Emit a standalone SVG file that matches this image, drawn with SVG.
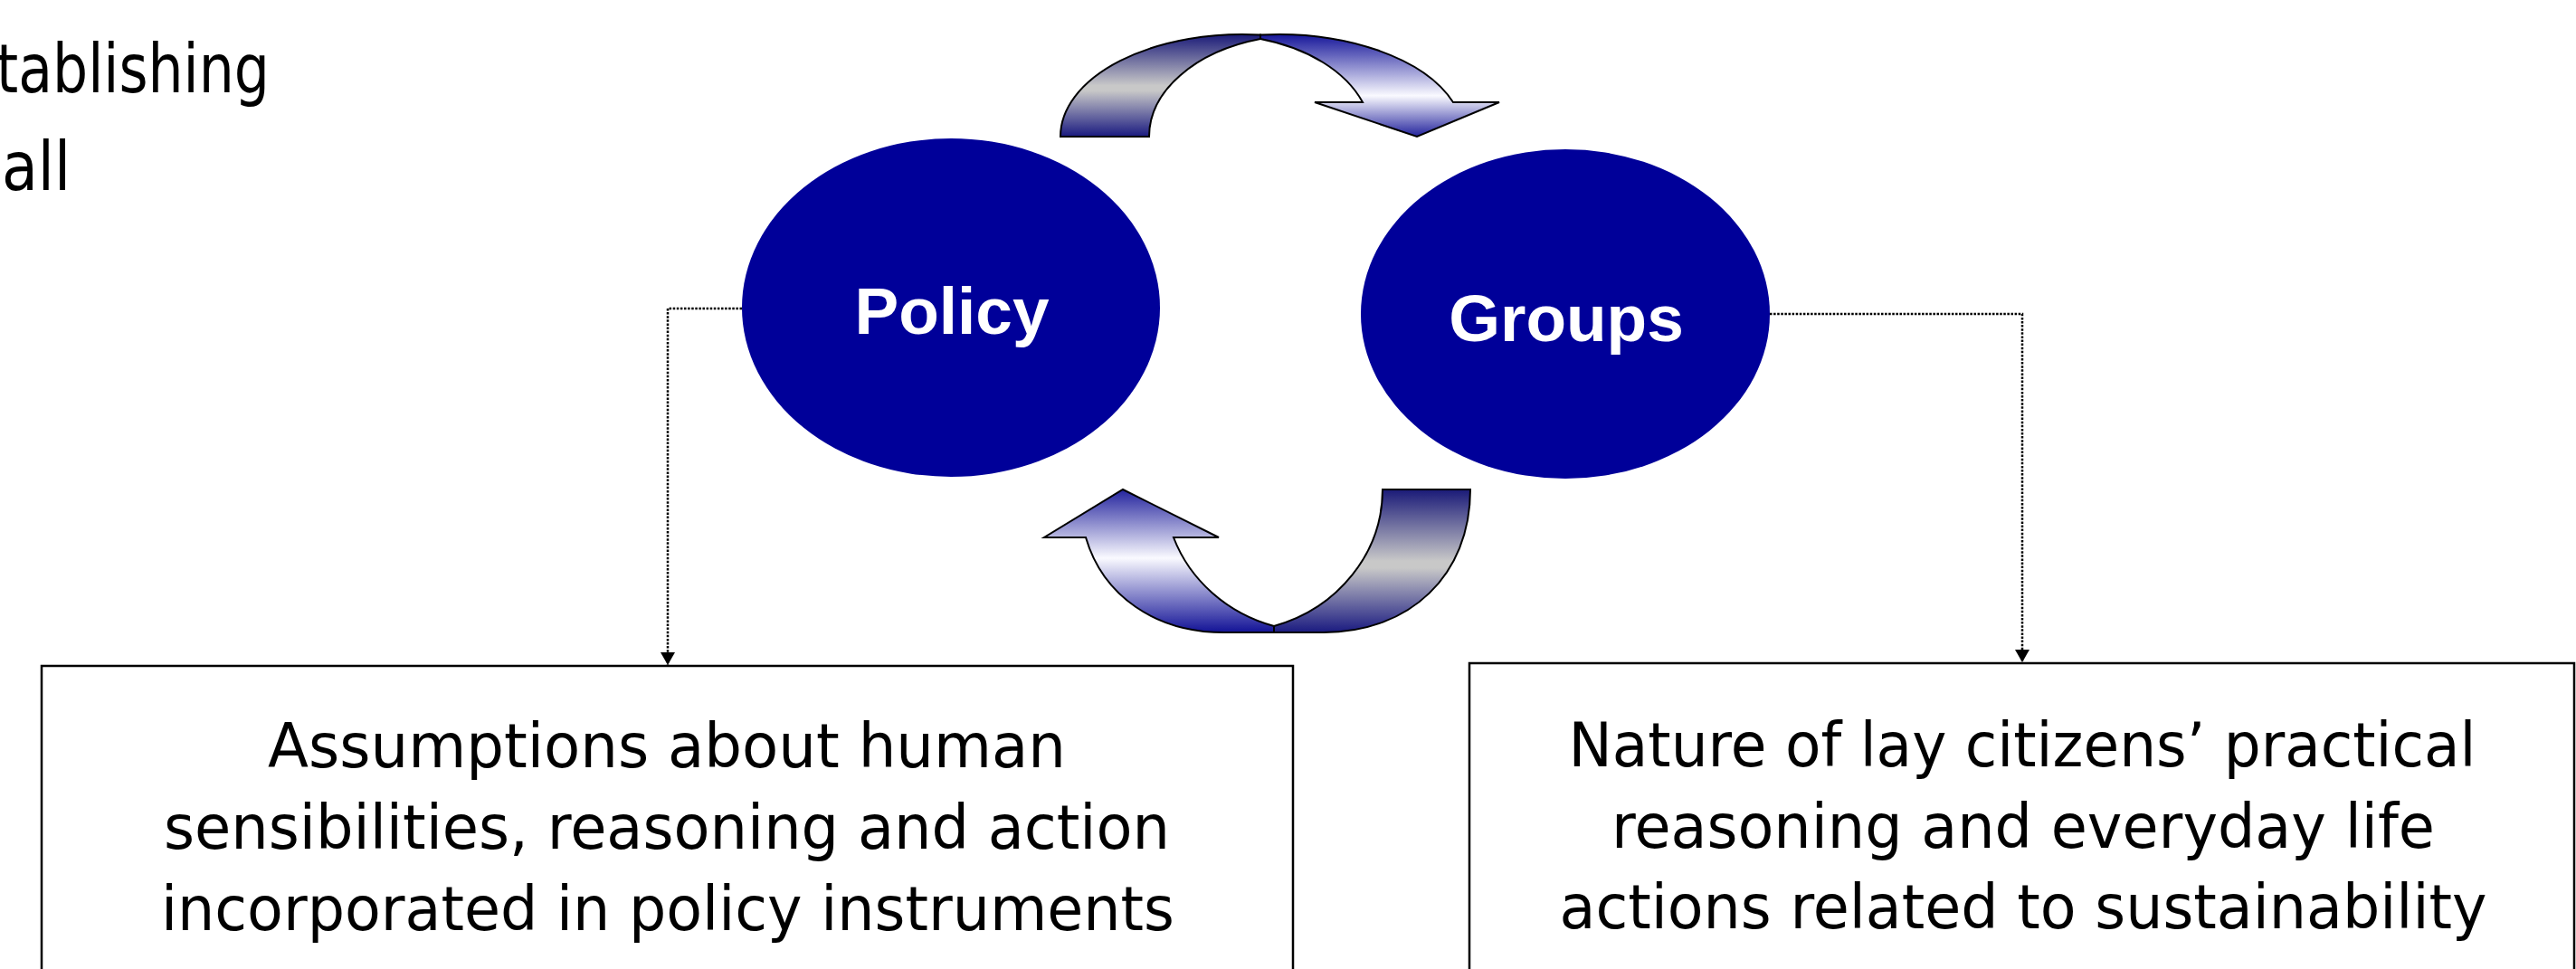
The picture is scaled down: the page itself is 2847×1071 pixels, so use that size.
<svg xmlns="http://www.w3.org/2000/svg" width="2847" height="1071" viewBox="0 0 2847 1071">
<style>
.body{font-family:"DejaVu Sans","Liberation Sans",sans-serif;fill:#000}
.lbl{font-family:"Liberation Sans",Arial,sans-serif;font-weight:bold;font-size:73px;fill:#fff;text-anchor:middle}
.box{fill:#fff;stroke:#000;stroke-width:2.5}
.ell{fill:#000099}
.conn{fill:none;stroke:#000;stroke-width:2.5;stroke-dasharray:2.5 1.6}
.arr{stroke:#000;stroke-width:2;stroke-linejoin:miter}
.bt{font-family:"DejaVu Sans","Liberation Sans",sans-serif;font-size:68px;fill:#000;text-anchor:middle}
</style>
<defs>
<linearGradient id="tailG" x1="0" y1="0" x2="0" y2="1">
<stop offset="0" stop-color="#1a1a78"/>
<stop offset="0.5" stop-color="#c8c8c8"/>
<stop offset="0.55" stop-color="#c8c8c8"/>
<stop offset="1" stop-color="#1a1a80"/>
</linearGradient>
<linearGradient id="headTopG" x1="0" y1="0" x2="0" y2="1">
<stop offset="0" stop-color="#16169a"/>
<stop offset="0.6" stop-color="#fafaff"/>
<stop offset="1" stop-color="#22229c"/>
</linearGradient>
<linearGradient id="headBotG" x1="0" y1="0" x2="0" y2="1">
<stop offset="0" stop-color="#24249e"/>
<stop offset="0.48" stop-color="#fafaff"/>
<stop offset="1" stop-color="#121296"/>
</linearGradient>
<marker id="ah" markerUnits="userSpaceOnUse" markerWidth="14" markerHeight="16" refX="14" refY="8" orient="auto" viewBox="0 0 14 16">
<path d="M0,0 L14,8 L0,16 Z" fill="#000"/>
</marker>
</defs>

<g id="intro-text">
<text class="body" x="-4" y="102" font-size="74" textLength="302" lengthAdjust="spacingAndGlyphs">tablishing</text>
<text class="body" x="2" y="210" font-size="74" textLength="76" lengthAdjust="spacingAndGlyphs">all</text>
</g>

<g id="cycle-arrow-top">
<path class="arr" fill="url(#tailG)" d="M1270,151 L1172,151 A201,113 0 0 1 1393,38.5 L1393,43 A170,112.4 0 0 0 1270,151 Z"/>
<path class="arr" fill="url(#headTopG)" d="M1393,38.5 A205,113 0 0 1 1606,113 L1657,113 L1566,151 L1453,113 L1506,113 A170,112.4 0 0 0 1393,43 Z"/>
</g>

<g id="cycle-arrow-bottom">
<path class="arr" fill="url(#tailG)" d="M1528,541 L1625,541 C1625,636 1558,699 1463,699 L1408,699 L1408,692 A168,157.6 0 0 0 1528,541 Z"/>
<path class="arr" fill="url(#headBotG)" d="M1408,699 L1353,699 C1277,699 1219,658.7 1200,594 L1154,594 L1241,541 L1347,594 L1297,594 A168,157.6 0 0 0 1408,692 Z"/>
</g>

<g id="connectors">
<path class="conn" d="M820,341 H738 V735" marker-end="url(#ah)"/>
<path class="conn" d="M1956,347 H2235 V732" marker-end="url(#ah)"/>
</g>

<g id="node-policy">
<ellipse class="ell" cx="1051" cy="340" rx="231" ry="187"/>
<text class="lbl" x="1052" y="369">Policy</text>
</g>

<g id="node-groups">
<ellipse class="ell" cx="1730" cy="347" rx="226" ry="182"/>
<text class="lbl" x="1731" y="377">Groups</text>
</g>

<g id="node-assumptions">
<rect class="box" x="46" y="736" width="1383" height="400"/>
<text class="bt" x="737" y="848" textLength="882" lengthAdjust="spacingAndGlyphs">Assumptions about human</text>
<text class="bt" x="737" y="938" textLength="1112" lengthAdjust="spacingAndGlyphs">sensibilities, reasoning and action</text>
<text class="bt" x="738" y="1028" textLength="1120" lengthAdjust="spacingAndGlyphs">incorporated in policy instruments</text>
</g>

<g id="node-lay-citizens">
<rect class="box" x="1624" y="733" width="1221" height="400"/>
<text class="bt" x="2235" y="847" textLength="1003" lengthAdjust="spacingAndGlyphs">Nature of lay citizens’ practical</text>
<text class="bt" x="2236" y="937" textLength="910" lengthAdjust="spacingAndGlyphs">reasoning and everyday life</text>
<text class="bt" x="2236" y="1026" textLength="1025" lengthAdjust="spacingAndGlyphs">actions related to sustainability</text>
</g>
</svg>
